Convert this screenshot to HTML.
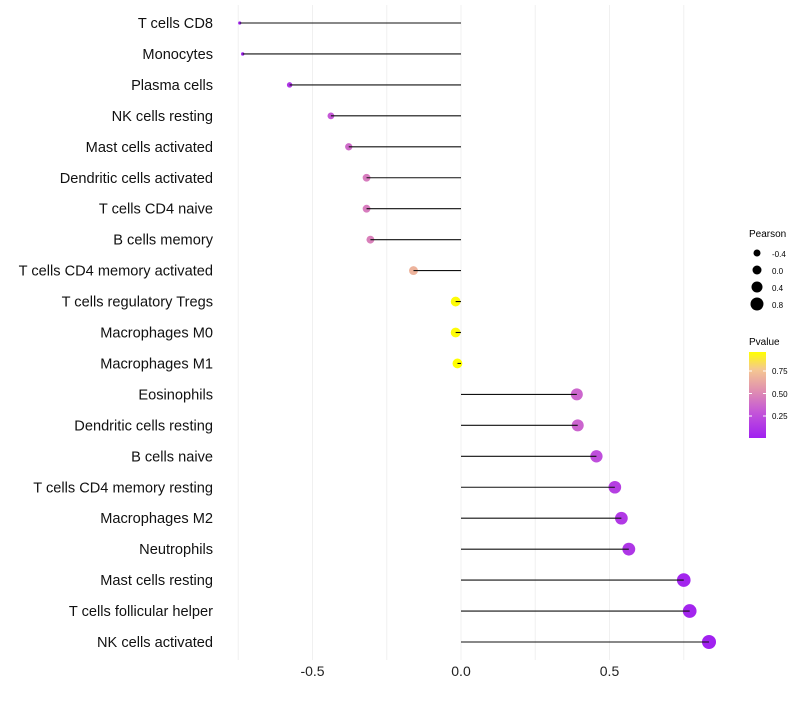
<!DOCTYPE html>
<html><head><meta charset="utf-8"><style>
body{margin:0;background:#fff;font-family:"Liberation Sans",sans-serif}
</style></head><body>
<svg id="chart" width="800" height="700" xmlns="http://www.w3.org/2000/svg" font-family="Liberation Sans, sans-serif">
<defs><linearGradient id="pg" x1="0" y1="1" x2="0" y2="0">
<stop offset="0" stop-color="#a020f0"/><stop offset="0.3" stop-color="#c456d8"/><stop offset="0.55" stop-color="#e08fb0"/><stop offset="0.8" stop-color="#f5c890"/><stop offset="1" stop-color="#ffff00"/></linearGradient></defs>
<g id="grid"></g><g id="marks"></g><g id="stems"></g><g id="labels"></g>
<g>
<text x="749" y="237" font-size="10">Pearson</text>
<circle cx="757" cy="253" r="3.5"/><text x="772" y="257" font-size="8">-0.4</text>
<circle cx="757" cy="270" r="4.5"/><text x="772" y="274" font-size="8">0.0</text>
<circle cx="757" cy="287" r="5.5"/><text x="772" y="291" font-size="8">0.4</text>
<circle cx="757" cy="304" r="6.5"/><text x="772" y="308" font-size="8">0.8</text>
</g>
<g>
<text x="749" y="345" font-size="10">Pvalue</text>
<rect x="749" y="352" width="17" height="86" fill="url(#pg)"/>
<line x1="749" x2="752" y1="371" y2="371" stroke="#fff"/><line x1="763" x2="766" y1="371" y2="371" stroke="#fff"/>
<line x1="749" x2="752" y1="393.5" y2="393.5" stroke="#fff"/><line x1="763" x2="766" y1="393.5" y2="393.5" stroke="#fff"/>
<line x1="749" x2="752" y1="416" y2="416" stroke="#fff"/><line x1="763" x2="766" y1="416" y2="416" stroke="#fff"/>
<text x="772" y="374" font-size="8">0.75</text><text x="772" y="397" font-size="8">0.50</text><text x="772" y="419" font-size="8">0.25</text>
</g>
</svg>
<script>
const categories=["T cells CD8","Monocytes","Plasma cells","NK cells resting","Mast cells activated","Dendritic cells activated","T cells CD4 naive","B cells memory","T cells CD4 memory activated","T cells regulatory  Tregs","Macrophages M0","Macrophages M1","Eosinophils","Dendritic cells resting","B cells naive","T cells CD4 memory resting","Macrophages M2","Neutrophils","Mast cells resting","T cells follicular helper","NK cells activated"];
const pearson=[-0.745,-0.735,-0.577,-0.438,-0.378,-0.318,-0.318,-0.305,-0.16,-0.018,-0.018,-0.012,0.39,0.393,0.456,0.518,0.54,0.565,0.75,0.77,0.835];
const pvalue=[0.01,0.01,0.12,0.3,0.38,0.45,0.45,0.47,0.68,0.95,0.95,0.96,0.36,0.35,0.25,0.17,0.14,0.12,0.03,0.03,0.01];
const xTicks=[-0.5,0,0.5];
const xTickLabels=["-0.5","0.0","0.5"];
const grid=[-0.75,-0.5,-0.25,0,0.25,0.5,0.75];
const NS="http://www.w3.org/2000/svg";
const x=v=>461+v*297;
const y=i=>23+i*30.95;
const rad=v=>Math.sqrt(Math.max(1,24.5+29.5*v));
const stops=[[0,[160,32,240]],[0.3,[196,86,216]],[0.55,[224,143,176]],[0.8,[245,200,144]],[1,[255,255,0]]];
function col(p){let t=Math.min(1,Math.max(0,(p-0.006)/0.954));for(let k=1;k<stops.length;k++){if(t<=stops[k][0]){const a=stops[k-1],b=stops[k],f=(t-a[0])/(b[0]-a[0]);return `rgb(${a[1].map((c,j)=>Math.round(c+(b[1][j]-c)*f)).join(',')})`;}}return 'rgb(255,255,0)';}
function mk(tag,attrs,parent){const e=document.createElementNS(NS,tag);for(const k in attrs)e.setAttribute(k,attrs[k]);document.getElementById(parent).appendChild(e);return e;}
grid.forEach(g=>{const l=mk('line',{x1:x(g),x2:x(g),y1:5,y2:660,stroke:'#f0f0f0','stroke-width':1},'grid');

});
xTicks.forEach((t,i)=>{const e=mk('text',{x:x(t),y:676,'font-size':14,'text-anchor':'middle',fill:'#222'},'labels');e.textContent=xTickLabels[i];

});
categories.forEach((c,i)=>{
const t=mk('text',{x:213,y:y(i)+5,'font-size':14.6,'text-anchor':'end',fill:'#111'},'labels');t.textContent=c;


const d=mk('circle',{cx:x(pearson[i]),cy:y(i),r:rad(pearson[i]),fill:col(pvalue[i])},'marks');


const l=mk('line',{x1:x(0),x2:x(pearson[i]),y1:y(i),y2:y(i),stroke:'#111','stroke-width':1.1},'stems');


});
</script>
</body></html>
